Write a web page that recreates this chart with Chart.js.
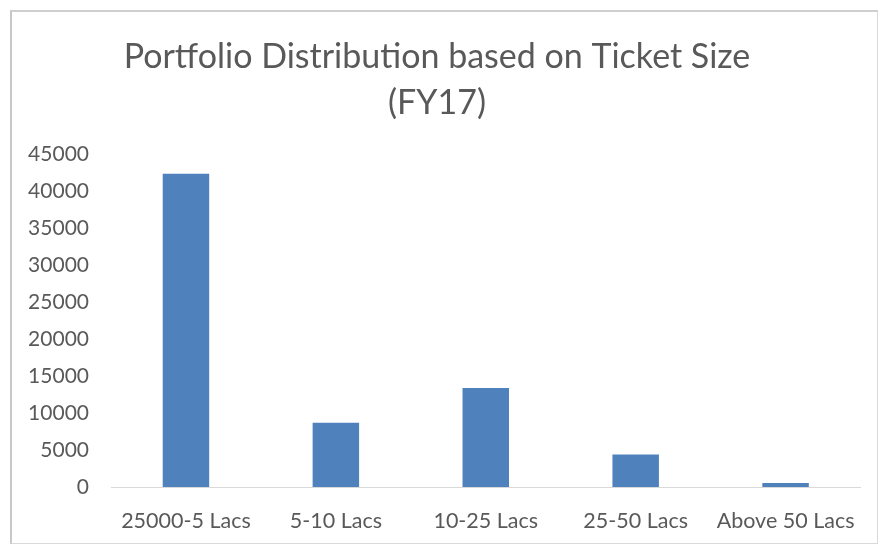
<!DOCTYPE html>
<html>
<head>
<meta charset="utf-8">
<script src="https://cdn.jsdelivr.net/npm/chart.js@4/dist/chart.umd.min.js"></script>
<style>
  html, body { margin: 0; padding: 0; background: #fff; }
  #wrap {
    position: absolute; left: 10px; top: 10px;
    width: 865px; height: 531px;
    border: 1px solid #d9d9d9;
    border-left: 2px solid #c8c8c8;
    border-top: 2px solid #cfcfcf;
  }
</style>
</head>
<body>
<div id="wrap"><canvas id="chart"></canvas></div>
<script>
  // Chart data
  const titleLines = ['Portfolio Distribution based on Ticket Size', '(FY17)'];
  const categories = ['25000-5 Lacs', '5-10 Lacs', '10-25 Lacs', '25-50 Lacs', 'Above 50 Lacs'];
  const portfolioValues = [42400, 8700, 13400, 4400, 550];
  const yMin = 0;
  const yMax = 45000;
  const yStep = 5000;

  const textColor = '#595959';
  const fontFamily = 'Lato, "Open Sans", sans-serif';

  const ctx = document.getElementById('chart');

  new Chart(ctx, {
    type: 'bar',
    data: {
      labels: categories,
      datasets: [{
        label: 'Portfolio',
        data: portfolioValues,
        backgroundColor: '#4f81bd',
        borderWidth: 0,
        barPercentage: 1,
        categoryPercentage: 0.31
      }]
    },
    options: {
      responsive: true,
      maintainAspectRatio: false,
      animation: false,
      layout: {
        padding: { top: 22, right: 15, bottom: 0, left: 0 }
      },
      plugins: {
        legend: { display: false },
        tooltip: { enabled: false },
        title: {
          display: true,
          text: titleLines,
          color: textColor,
          font: { family: fontFamily, size: 34, weight: 'normal', lineHeight: 1.36 },
          padding: { top: 0, bottom: 28 }
        }
      },
      scales: {
        x: {
          grid: { display: false, drawTicks: false },
          border: { display: true, color: '#d9d9d9', width: 1 },
          ticks: {
            color: textColor,
            font: { family: fontFamily, size: 21.5 },
            padding: 21,
            maxRotation: 0
          },
          afterFit: (scale) => { scale.height = 56; }
        },
        y: {
          min: yMin,
          max: yMax,
          grid: { display: false, drawTicks: false },
          border: { display: false },
          ticks: {
            stepSize: yStep,
            color: textColor,
            font: { family: fontFamily, size: 21 },
            padding: 22,
            callback: (value) => String(value)
          },
          afterFit: (scale) => { scale.width = 99; }
        }
      }
    }
  });
</script>
</body>
</html>
